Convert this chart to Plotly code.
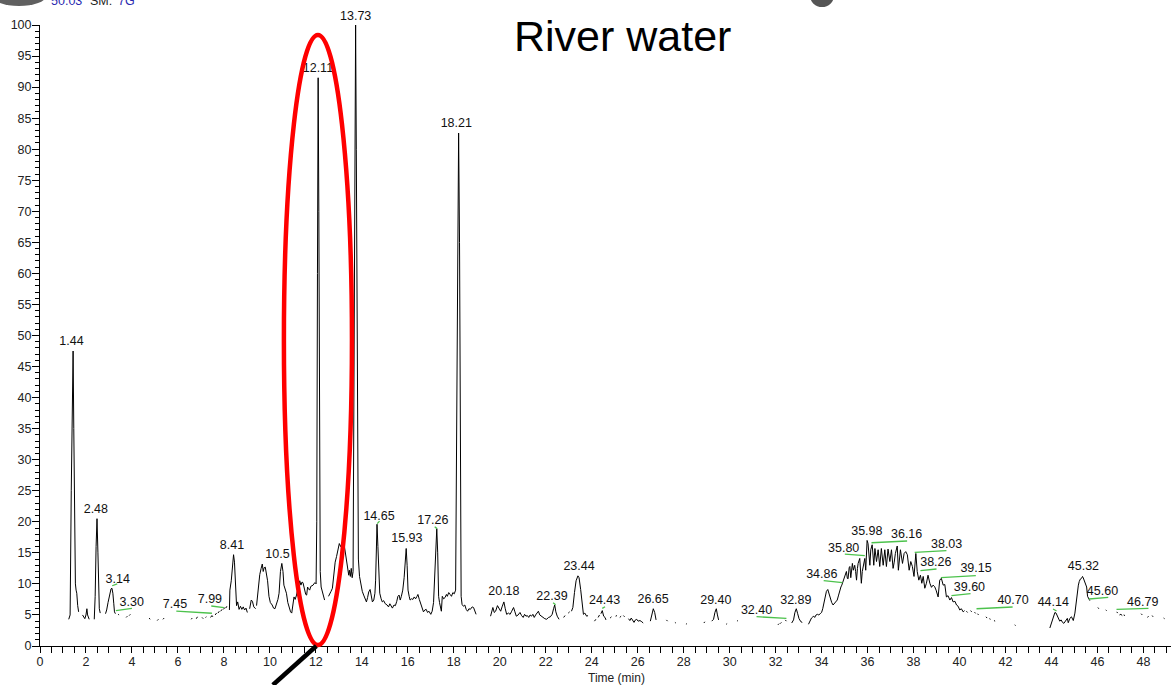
import plotly.graph_objects as go

# ---------------- data ----------------
X_MAX = 49.2
Y_MAX = 100

# chromatogram trace: (retention time [min], relative abundance) ; None = gap
seg_early = [(1.25, 4.3), (1.31, 5.0), (1.36, 25), (1.41, 46), (1.44, 47.5), (1.47, 35), (1.51, 12), (1.54, 10),
             (1.57, 9.0), (1.60, 8.5), (1.64, 6.5), (1.68, 5.5), None,
             (1.85, 5.0), (1.90, 4.6), (1.95, 4.4), (2.00, 5.0), (2.04, 6.0), (2.07, 5.0), (2.10, 4.5), (2.14, 4.3), None,
             (2.36, 4.3), (2.40, 8), (2.44, 16), (2.48, 20.5), (2.52, 15), (2.55, 8), (2.58, 6.0), (2.62, 5.3), None,
             (2.85, 5.2), (2.90, 5.8), (2.96, 7.0), (3.02, 8.2), (3.09, 9.2), (3.13, 9.3), (3.17, 8.5), (3.21, 6.8),
             (3.24, 5.5), (3.28, 5.2), None,
             (3.40, 5.1), (3.44, 5.0), None, (3.75, 4.6), (3.80, 4.8), None, (3.88, 4.9), (3.93, 5.1), None,
             (4.75, 4.5), (4.79, 4.3), None, (5.10, 4.1), (5.15, 4.3), None, (5.35, 4.3), (5.40, 4.5), None,
             (6.58, 4.3), (6.62, 4.5), None, (6.80, 4.4), (6.85, 4.7), None, (7.05, 4.6), (7.10, 4.4), None,
             (7.20, 4.6), (7.24, 4.7), None, (7.42, 4.6), (7.48, 4.9), (7.52, 4.7), None,
             (7.62, 5.0), (7.68, 5.3), None, (7.74, 5.3), (7.80, 5.6), None, (7.86, 5.6), (7.92, 5.9), None,
             (7.98, 5.9), (8.04, 6.2), None, (8.08, 6.1), (8.13, 6.4), None]

seg_main = [(8.24, 5.8), (8.26, 9.0), (8.32, 10.5), (8.38, 13.8), (8.42, 14.7), (8.46, 13.5), (8.50, 9), (8.55, 6.5),
            (8.60, 7.1), (8.66, 5.9), (8.72, 6.4), (8.78, 5.9), (8.84, 6.3), (8.90, 5.8), (8.96, 6.1), (9.02, 5.4), None,
            (9.12, 6.0), (9.19, 7.4), (9.24, 7.2), (9.30, 6.3), (9.38, 6.0), None,
            (9.42, 6.5), (9.50, 10.0), (9.56, 11.5), (9.62, 12.5), (9.67, 13.2), (9.71, 12.0), (9.75, 12.6),
            (9.80, 12.7), (9.85, 11.8), (9.90, 10.5), (9.96, 8.0), (10.02, 7.0), (10.10, 6.6), (10.16, 6.1),
            (10.22, 6.0), (10.28, 6.6), (10.35, 7.5), (10.40, 8.5), (10.46, 12.0), (10.52, 13.3), (10.57, 12.0),
            (10.61, 9.8), (10.66, 9.0), (10.72, 8.5), (10.78, 7.0), (10.84, 6.0), (10.90, 5.5), (10.95, 5.3),
            (11.00, 6.5), (11.05, 7.9), (11.10, 7.5), (11.16, 8.2), (11.22, 9.3), (11.27, 10.0), (11.30, 10.5),
            (11.35, 9.8), (11.40, 10.3), (11.44, 10.2), (11.48, 9.5), (11.52, 9.0), (11.56, 8.3), (11.60, 8.2),
            (11.64, 9.5), (11.68, 9.2), (11.73, 9.0), (11.78, 9.6), (11.83, 9.7), (11.88, 9.8), (11.93, 10.1),
            (11.97, 10.2), (12.01, 10.0), (12.04, 20), (12.07, 60), (12.10, 91.5), (12.13, 70), (12.16, 30),
            (12.19, 12), (12.23, 9.5), (12.28, 8.7), (12.33, 7.8), (12.38, 7.4), None,
            (12.55, 8.0), (12.60, 8.5), (12.66, 8.8), (12.72, 9.3), (12.78, 12), (12.84, 13.5), (12.90, 14.4),
            (12.96, 15.5), (13.02, 16.5), (13.08, 16.0), (13.13, 16.3), (13.18, 16.8), (13.22, 16.6), (13.27, 15.5),
            (13.32, 14.5), (13.38, 12.8), (13.43, 11.4), (13.46, 12.2), (13.50, 11.2), (13.54, 12.5), (13.58, 11.0),
            (13.62, 12), (13.66, 40), (13.70, 85), (13.73, 100), (13.76, 80), (13.80, 35), (13.85, 14), (13.90, 11.2),
            (13.96, 9.8), (14.02, 8.8), (14.08, 8.2), (14.14, 7.5), (14.20, 7.1), (14.25, 7.8), (14.30, 8.7),
            (14.36, 9.1), (14.41, 8.0), (14.46, 7.1), (14.52, 7.4), (14.57, 8.5), (14.60, 10.6), (14.63, 16),
            (14.66, 19.6), (14.70, 16), (14.74, 10), (14.78, 8.5), (14.84, 7.6), (14.89, 7.1), (14.95, 7.3),
            (15.02, 6.8), (15.10, 6.6), (15.16, 6.3), (15.22, 6.8), (15.28, 6.3), (15.33, 6.1), (15.40, 6.6),
            (15.46, 6.5), (15.52, 7.2), (15.57, 8.0), (15.62, 8.2), (15.67, 7.4), (15.72, 8.0), (15.78, 9.0),
            (15.84, 11), (15.90, 15), (15.93, 15.7), (15.97, 13), (16.01, 9.0), (16.06, 8.0), (16.10, 7.4),
            (16.16, 7.6), (16.22, 7.5), (16.28, 7.9), (16.34, 7.6), (16.40, 8.0), (16.44, 8.3), (16.50, 7.5),
            (16.56, 6.8), (16.62, 6.2), (16.68, 5.5), (16.74, 5.8), (16.80, 5.9), (16.86, 5.4), (16.92, 5.6),
            (17.00, 5.1), (17.06, 5.6), (17.12, 7), (17.18, 12), (17.23, 17.5), (17.26, 18.9), (17.30, 15),
            (17.34, 8), (17.38, 7), (17.42, 6.0), (17.46, 5.6), (17.50, 8.0), (17.56, 7.6), (17.62, 7.8),
            (17.68, 8.3), (17.72, 8.0), (17.78, 8.6), (17.84, 8.3), (17.90, 8.0), (17.96, 8.6), (18.02, 8.4),
            (18.08, 9), (18.12, 30), (18.17, 70), (18.21, 82.6), (18.25, 65), (18.29, 25), (18.32, 8), (18.36, 6.7),
            (18.42, 6.4), (18.48, 6.6), (18.54, 5.9), (18.60, 5.6), (18.66, 6.0), (18.72, 5.9), (18.80, 6.3),
            (18.86, 6.2), (18.92, 5.4), (18.97, 5.1), None]

seg_mid = [(19.60, 4.8), (19.66, 5.5), (19.70, 6.2), (19.76, 5.4), (19.82, 5.6), (19.90, 6.5), (19.96, 6.0),
           (20.04, 5.6), (20.10, 6.3), (20.18, 7.1), (20.24, 6.0), (20.30, 5.1), (20.38, 5.3), (20.45, 5.1),
           (20.52, 5.6), (20.60, 6.2), (20.66, 5.5), (20.72, 4.8), (20.80, 5.0), (20.88, 5.4), (20.95, 4.9),
           (21.02, 4.6), (21.08, 5.1), (21.14, 4.8), (21.20, 4.9), (21.26, 4.6), (21.32, 5.0), (21.38, 4.8),
           (21.44, 5.1), (21.50, 4.6), (21.56, 5.0), (21.62, 5.4), (21.68, 5.6), (21.74, 5.0), (21.80, 4.8),
           (21.88, 4.6), (21.96, 4.4), (22.04, 4.3), (22.12, 4.6), (22.20, 4.7), (22.28, 5.1), (22.34, 6.0),
           (22.39, 6.6), (22.44, 5.5), (22.50, 4.8), (22.58, 4.3), None,
           (22.78, 4.6), (22.84, 4.9), None, (22.98, 5.3), (23.04, 5.5), None,
           (23.12, 5.6), (23.18, 6.2), (23.25, 8.6), (23.32, 10.5), (23.40, 11.3), (23.45, 11.0), (23.52, 9.1),
           (23.58, 7.0), (23.64, 5.1), (23.70, 5.3), (23.78, 4.8), (23.84, 4.9), None,
           (24.12, 4.0), (24.18, 4.3), None, (24.28, 4.6), (24.34, 5.0), None,
           (24.40, 5.2), (24.46, 5.7), (24.52, 4.8), (24.58, 4.6), (24.62, 4.2), None,
           (24.80, 4.5), (24.86, 4.7), None, (25.04, 4.8), (25.10, 4.9), None, (25.22, 4.6), (25.28, 4.8), None,
           (25.38, 4.9), (25.43, 4.7), None,
           (25.60, 4.4), (25.66, 4.1), (25.72, 4.5), (25.78, 4.0), (25.84, 3.8), (25.90, 4.2), (25.96, 4.3),
           (26.02, 4.0), (26.10, 4.1), (26.18, 3.9), (26.24, 3.7), None,
           (26.55, 4.0), (26.62, 5.2), (26.68, 6.0), (26.74, 5.4), (26.80, 4.2), None,
           (27.25, 4.2), (27.30, 4.0), None, (27.62, 3.8), (27.66, 3.7), None, (28.10, 3.5), (28.14, 3.6), None,
           (28.88, 3.7), (28.92, 3.9), None,
           (29.22, 4.0), (29.30, 4.3), (29.36, 5.4), (29.42, 6.0), (29.47, 5.0), (29.52, 4.2), None,
           (29.85, 3.5), (29.89, 3.6), None, (30.32, 4.0), (30.36, 4.1), None,
           (32.10, 3.4), (32.15, 3.6), None, (32.20, 3.6), (32.25, 3.8), None, (32.42, 4.2), (32.47, 4.0), None,
           (32.70, 3.7), (32.78, 4.2), (32.84, 5.4), (32.90, 6.0), (32.96, 5.2), (33.02, 4.4), (33.10, 3.9),
           (33.16, 3.8), None]

seg_late = [(33.43, 3.5), (33.50, 4.2), (33.56, 4.5), (33.62, 4.7), (33.66, 4.8), (33.70, 4.6), (33.76, 5.0),
            (33.82, 5.1), (33.88, 5.0), (33.94, 5.2), (34.00, 5.4), (34.05, 6.0), (34.10, 6.8), (34.16, 8.0),
            (34.21, 8.8), (34.27, 9.1), (34.33, 8.3), (34.38, 7.7), (34.44, 7.0), (34.50, 6.6), (34.56, 6.9),
            (34.62, 7.1), (34.68, 7.4), (34.74, 8.2), (34.79, 9.0), (34.84, 9.5), (34.88, 9.8), (34.92, 10.2),
            (34.96, 10.6), (35.00, 11.0), (35.04, 11.6), (35.08, 12.0), (35.12, 10.9), (35.15, 10.8), (35.20, 12.6),
            (35.23, 12.8), (35.27, 11.0), (35.31, 12.9), (35.34, 13.3), (35.38, 12.2), (35.44, 13.0), (35.48, 12.0),
            (35.52, 10.6), (35.56, 12.5), (35.59, 13.3), (35.66, 14.1), (35.70, 12.5), (35.73, 10.1), (35.77, 12.0),
            (35.81, 13.0), (35.88, 14.1), (35.92, 12.2), (35.95, 15.5), (35.98, 17.0), (36.02, 16.5), (36.06, 14.0),
            (36.10, 13.0), (36.14, 15.5), (36.20, 16.3), (36.24, 14.5), (36.27, 13.0), (36.32, 15.7), (36.36, 14.8),
            (36.39, 13.6), (36.46, 15.5), (36.53, 12.8), (36.60, 15.7), (36.68, 13.0), (36.75, 15.5), (36.82, 12.8),
            (36.89, 15.6), (36.97, 13.6), (37.04, 15.5), (37.11, 12.5), (37.16, 13.5), (37.21, 14.9), (37.29, 16.1),
            (37.34, 12.2), (37.43, 15.5), (37.52, 13.3), (37.59, 14.9), (37.66, 15.2), (37.73, 14.7), (37.81, 12.2),
            (37.88, 13.6), (37.95, 12.8), (38.02, 11.2), (38.06, 13.5), (38.10, 14.9), (38.16, 12.0), (38.23, 10.6),
            (38.30, 11.4), (38.36, 10.1), (38.42, 11.2), (38.49, 9.3), (38.56, 10.1), (38.63, 11.4), (38.71, 10.1),
            (38.78, 9.45), (38.85, 9.8), (38.92, 9.55), (38.98, 9.0), (39.04, 8.2), (39.07, 7.9), (39.11, 9.5),
            (39.14, 10.6), (39.21, 10.9), (39.29, 9.8), (39.36, 9.9), (39.43, 7.9), (39.50, 8.1), (39.58, 7.4),
            (39.65, 7.8), (39.72, 7.1), (39.80, 7.2), (39.87, 6.6), (39.94, 6.4), (40.01, 5.8), (40.08, 6.0),
            (40.16, 5.5), (40.22, 5.7), None,
            (40.30, 5.6), (40.35, 5.4), None, (40.48, 5.7), (40.53, 5.5), None, (40.65, 5.4), (40.70, 5.3), None,
            (40.78, 5.2), (40.83, 5.0), None, (41.15, 4.7), (41.20, 4.5), None, (41.30, 4.4), (41.35, 4.3), None,
            (41.50, 4.1), (41.55, 4.0), None, (42.40, 3.4), (42.44, 3.3), None,
            (43.93, 2.9), (44.00, 3.7), (44.08, 4.5), (44.15, 5.4), (44.20, 5.3), (44.29, 4.6), (44.36, 4.0),
            (44.42, 4.2), (44.48, 3.8), (44.54, 3.65), (44.60, 3.9), (44.66, 4.2), (44.69, 4.45), (44.73, 3.75),
            (44.80, 4.45), (44.87, 4.7), (44.95, 4.1), (45.02, 5.3), (45.07, 7.0), (45.12, 8.5), (45.17, 9.8),
            (45.21, 10.4), (45.26, 10.8), (45.31, 10.9), (45.35, 11.2), (45.38, 11.0), (45.45, 10.4), (45.50, 9.8),
            (45.53, 9.5), (45.57, 8.0), (45.62, 7.6), (45.67, 7.3), None,
            (46.02, 6.2), (46.06, 6.0), None, (46.36, 5.8), (46.40, 5.7), None, (46.84, 5.5), (46.88, 5.3), None,
            (46.96, 5.0), (47.02, 5.1), (47.08, 4.9), None, (47.14, 5.0), (47.20, 4.9), None,
            (47.90, 5.2), (47.95, 5.0), None, (48.18, 4.6), (48.22, 4.8), None, (48.38, 4.9), (48.42, 4.7), None,
            (48.88, 4.5), (48.92, 4.4)]

# peak labels: text, label x (min), label centre y (%)
label_text = ["1.44", "2.48", "3.14", "3.30", "7.45", "7.99", "8.41", "10.5", "12.11", "13.73", "14.65",
              "15.93", "17.26", "18.21", "20.18", "22.39", "23.44", "24.43", "26.65", "29.40", "32.40", "32.89",
              "34.86", "35.80", "35.98", "36.16", "38.03", "38.26", "39.15", "39.60", "40.70", "44.14", "45.32",
              "45.60", "46.79"]
label_x = [1.37, 2.43, 3.38, 3.99, 5.87, 7.39, 8.35, 10.33, 12.09, 13.73, 14.75,
           15.96, 17.09, 18.11, 20.18, 22.27, 23.45, 24.56, 26.67, 29.40, 31.17, 32.88,
           34.01, 34.96, 35.97, 37.70, 39.44, 38.97, 40.72, 40.43, 42.33, 44.08, 45.39,
           46.22, 47.97]
label_y = [49.0, 22.0, 10.6, 6.9, 6.6, 7.4, 16.1, 14.6, 93.0, 101.5, 20.75,
           17.2, 20.1, 84.1, 8.7, 7.9, 12.7, 7.25, 7.4, 7.25, 5.6, 7.25,
           11.4, 15.7, 18.4, 17.9, 16.3, 13.4, 12.35, 9.4, 7.25, 6.9, 12.7,
           8.7, 7.0]

# green label leader segments: (x0, y0, x1, y1)
leaders = [(3.14, 9.7, 3.36, 10.0), (3.30, 5.7, 4.00, 6.05), (5.93, 5.6, 7.48, 5.27), (7.45, 6.44, 8.00, 6.17),
           (14.67, 19.7, 14.77, 20.1), (17.17, 19.2, 17.27, 18.9), (22.32, 6.98, 22.43, 6.66),
           (24.46, 6.06, 24.58, 6.33), (31.17, 4.72, 32.47, 4.45), (34.09, 10.52, 34.91, 10.19),
           (35.01, 14.81, 35.88, 14.54), (36.17, 16.63, 37.72, 16.91), (38.05, 15.08, 39.43, 15.35),
           (38.30, 12.13, 39.00, 12.40), (39.19, 11.00, 40.71, 11.32), (39.65, 8.10, 40.48, 8.42),
           (40.74, 6.00, 42.31, 6.28), (44.07, 5.96, 44.22, 5.64), (45.63, 7.57, 46.47, 7.84),
           (46.83, 5.90, 48.22, 6.07)]

# highlight ellipse (data units) and pointer line end
ellipse_x = (10.61, 13.57)
ellipse_y = (0.16, 98.4)
pointer = (12.02, 0.0, 10.13, -6.28)

# ---------------- build ----------------
FONT = "Liberation Sans, Arial, sans-serif"
W, H = 1171, 685
ML, MT, MB = 40, 25, 39
PW = W - ML
PH = H - MT - MB


def px(t):  # data x -> paper
    return t / X_MAX


def py(v):  # data y -> paper
    return v / Y_MAX


def ppx(p):  # pixel x -> paper
    return (p - ML) / PW


def ppy(p):  # pixel y -> paper
    return (H - MB - p) / PH


rt, ab = [], []
for seg in (seg_early, seg_main, seg_mid, seg_late):
    for pt in seg:
        if pt is None:
            rt.append(None)
            ab.append(None)
        else:
            rt.append(pt[0])
            ab.append(pt[1])

in_x = [x for x, y in zip(label_x, label_y) if y <= Y_MAX]
in_y = [y for y in label_y if y <= Y_MAX]
in_t = [t for t, y in zip(label_text, label_y) if y <= Y_MAX]

LABEL_FONT = dict(family=FONT, size=12.5, color="#111111")

fig = go.Figure()
fig.add_trace(go.Scatter(x=rt, y=ab, mode="lines", line=dict(color="black", width=1),
                         connectgaps=False, hoverinfo="skip", showlegend=False))
fig.add_trace(go.Scatter(x=in_x, y=in_y, text=in_t, mode="text", textposition="middle center",
                         textfont=LABEL_FONT, cliponaxis=False,
                         hoverinfo="skip", showlegend=False))

shapes = []
for x0, y0, x1, y1 in leaders:
    shapes.append(dict(type="line", xref="x", yref="y", x0=x0, y0=y0, x1=x1, y1=y1,
                       line=dict(color="#4cc24c", width=1.3)))
shapes.append(dict(type="circle", xref="paper", yref="paper",
                   x0=px(ellipse_x[0]), x1=px(ellipse_x[1]), y0=py(ellipse_y[0]), y1=py(ellipse_y[1]),
                   line=dict(color="#ff0000", width=4.5)))
shapes.append(dict(type="line", xref="paper", yref="paper",
                   x0=px(pointer[0]), y0=py(pointer[1]), x1=px(pointer[2]), y1=py(pointer[3]),
                   line=dict(color="black", width=4.5)))
# cropped header remnants
shapes.append(dict(type="circle", xref="paper", yref="paper", x0=ppx(-8), x1=ppx(46), y0=ppy(6), y1=ppy(-14),
                   fillcolor="#606060", line=dict(width=0)))
shapes.append(dict(type="circle", xref="paper", yref="paper", x0=ppx(810), x1=ppx(834), y0=ppy(7), y1=ppy(-16),
                   fillcolor="#555555", line=dict(width=0)))

annotations = [
    dict(text="River water", xref="paper", yref="paper", x=ppx(622), y=ppy(36), xanchor="center",
         yanchor="middle", showarrow=False, font=dict(family=FONT, size=43, color="black")),
    dict(text="Time (min)", xref="paper", yref="paper", x=ppx(616), y=ppy(678), xanchor="center",
         yanchor="middle", showarrow=False, font=dict(family=FONT, size=12, color="#222222")),
    dict(text="50.03", xref="paper", yref="paper", x=ppx(66), y=ppy(0.5), xanchor="center", yanchor="middle",
         showarrow=False, font=dict(family=FONT, size=12.5, color="#2a2ab0")),
    dict(text="SM:", xref="paper", yref="paper", x=ppx(101), y=ppy(0.5), xanchor="center", yanchor="middle",
         showarrow=False, font=dict(family=FONT, size=12.5, color="#222222")),
    dict(text="7G", xref="paper", yref="paper", x=ppx(126), y=ppy(0.5), xanchor="center", yanchor="middle",
         showarrow=False, font=dict(family=FONT, size=12.5, color="#2a2ab0")),
]
# labels that sit above the axis range are drawn as annotations
for t, x, y in zip(label_text, label_x, label_y):
    if y > Y_MAX:
        annotations.append(dict(text=t, xref="x", yref="paper", x=x, y=py(y), xanchor="center",
                                yanchor="middle", showarrow=False, font=LABEL_FONT))

fig.update_layout(
    width=W, height=H,
    margin=dict(l=ML, r=0, t=MT, b=MB, pad=0),
    paper_bgcolor="white", plot_bgcolor="white",
    shapes=shapes, annotations=annotations, showlegend=False,
    xaxis=dict(range=[0, X_MAX], tick0=0, dtick=2, showgrid=False, zeroline=False,
               showline=True, linecolor="black", linewidth=1,
               ticks="outside", ticklen=6, tickwidth=1, tickcolor="black", ticklabelstandoff=-2,
               tickfont=dict(family=FONT, size=12.5, color="#222222"),
               minor=dict(dtick=0.5, ticks="outside", ticklen=6, tickcolor="black", showgrid=False)),
    yaxis=dict(range=[0, Y_MAX], tick0=0, dtick=5, showgrid=False, zeroline=False,
               showline=True, linecolor="black", linewidth=1,
               ticks="outside", ticklen=7, tickwidth=1, tickcolor="black", ticklabelstandoff=-2,
               tickfont=dict(family=FONT, size=12.5, color="#222222"),
               minor=dict(dtick=1, ticks="outside", ticklen=4, tickcolor="black", showgrid=False)),
)

fig.write_html("out.html",
               config={"displayModeBar": False},
               post_script="document.body.style.margin='0';document.body.style.padding='0';"
                           "document.documentElement.style.overflow='hidden';")
